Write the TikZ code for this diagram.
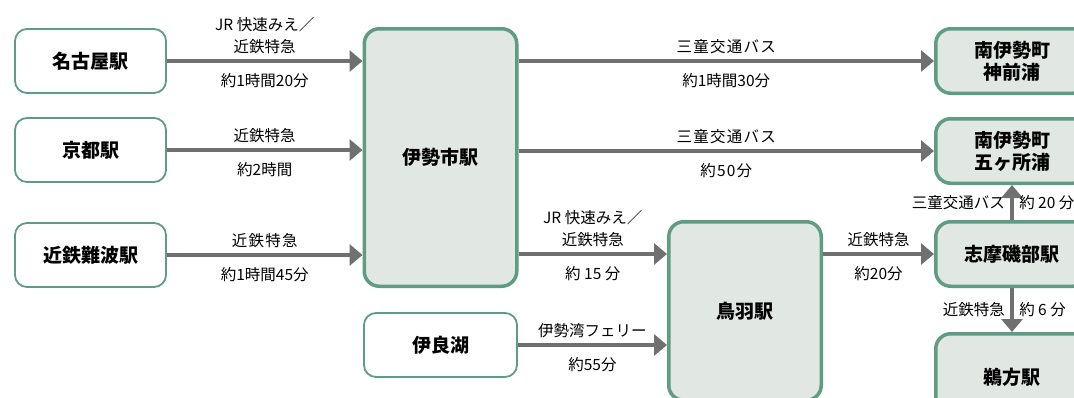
\documentclass[tikz,border=0pt]{standalone}
\usepackage{fontspec}
\setmainfont{Noto Sans CJK JP}
\usetikzlibrary{arrows.meta}

\definecolor{framegreen}{HTML}{5E9C83}
\definecolor{hubfill}{HTML}{E1E8E4}
\definecolor{arrowgray}{HTML}{707070}

\tikzset{
  origin/.style={draw=framegreen,
    line width=1.8pt,
    rounded corners=12pt,
    fill=white,
    minimum width=151pt,
    minimum height=64pt,
    font=\fontsize{19}{22}\selectfont\bfseries},
  hub/.style={draw=framegreen,
    line width=3.5pt,
    rounded corners=15pt,
    fill=hubfill,
    minimum width=152.5pt,
    minimum height=64.5pt,
    align=center,
    font=\fontsize{19}{22}\selectfont\bfseries},
  route/.style={-{Triangle[length=13pt,width=21pt]},
    line width=4.5pt,
    draw=arrowgray},
  info/.style={font=\fontsize{15.5}{22}\selectfont,
    align=center,
    inner sep=2pt},
  wide/.style={font=\fontsize{15.5}{22}\selectfont\addfontfeatures{LetterSpace=8}}
}

\begin{document}
\begin{tikzpicture}[x=1pt,y=-1pt]
    \clip (0,0) rectangle (1074,397);

    % Departure stations
    \node[origin] (nagoya) at (90.5,61) {名古屋駅};
    \node[origin] (kyoto) at (90.5,150) {京都駅};
    \node[origin] (namba) at (90.5,255) {近鉄難波駅};

    % Ise-shi
    \node[hub, minimum height=257.5pt] (iseshi) at (440.5,157.5) {伊勢市駅};

    % Irago
    \node[origin, minimum width=153pt] (irako) at (440.5,345) {伊良湖};

    % Toba
    \node[hub, minimum height=178.5pt] (toba) at (745,311) {鳥羽駅};

    % Right column
    \node[hub] (kamisaki) at (1012,61) {南伊勢町\\神前浦};
    \node[hub] (gokasho) at (1012,151) {南伊勢町\\五ヶ所浦};
    \node[hub] (isobe) at (1012,254) {志摩磯部駅};
    \node[hub, minimum height=86.5pt] (ugata) at (1012,377) {鵜方駅};

    % Arrows into Ise-shi
    \draw[route] (nagoya) -- (nagoya -| iseshi.west)
      node[info, midway, above=3pt] {JR 快速みえ／\\近鉄特急}
      node[info, midway, below=8pt] {約1時間20分};
    \draw[route] (kyoto) -- (kyoto -| iseshi.west)
      node[info, midway, above=3pt] {近鉄特急}
      node[info, midway, below=8pt] {約2時間};
    \draw[route] (namba) -- (namba -| iseshi.west)
      node[info, wide, midway, above=3pt] {近鉄特急}
      node[info, midway, below=8pt] {約1時間45分};

    % Arrows out of Ise-shi
    \draw[route] (iseshi.east |- kamisaki) -- (kamisaki)
      node[info, wide, midway, above=3pt] {三童交通バス}
      node[info, midway, below=8pt] {約1時間30分};
    \draw[route] (iseshi.east |- gokasho) -- (gokasho)
      node[info, wide, midway, above=3pt] {三童交通バス}
      node[info, wide, midway, below=8pt] {約50分};
    \draw[route] (iseshi.east |- isobe) -- (toba.west |- isobe)
      node[info, midway, above=3pt] {JR 快速みえ／\\近鉄特急}
      node[info, midway, below=8pt] {約 15 分};

    % Ferry
    \draw[route] (irako) -- (irako -| toba.west)
      node[info, midway, above=3pt] {伊勢湾フェリー}
      node[info, midway, below=8pt] {約55分};

    % Toba onward
    \draw[route] (toba.east |- isobe) -- (isobe)
      node[info, midway, above=3pt] {近鉄特急}
      node[info, midway, below=8pt] {約20分};
    \draw[route] (isobe) -- (gokasho)
      node[info, midway, left=3pt] {三童交通バス}
      node[info, midway, right=3pt] {約 20 分};
    \draw[route] (isobe) -- (ugata)
      node[info, midway, left=3pt] {近鉄特急}
      node[info, midway, right=3pt] {約 6 分};
\end{tikzpicture}
\end{document}
